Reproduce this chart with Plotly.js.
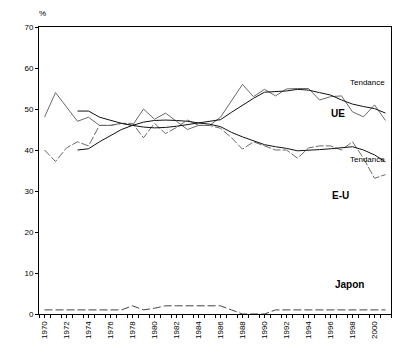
<!DOCTYPE html>
<html>
<head>
<meta charset="utf-8">
<script src="https://cdn.plot.ly/plotly-3.0.1.min.js"></script>
<style>html,body{margin:0;padding:0;background:#fff;}#chart{width:420px;height:359px;}</style>
</head>
<body>
<div id="chart"></div>
<script>
var years = [1970,1971,1972,1973,1974,1975,1976,1977,1978,1979,1980,1981,1982,1983,1984,1985,
             1986,1987,1988,1989,1990,1991,1992,1993,1994,1995,1996,1997,1998,1999,2000,2001];
var ueActual = [48,54,50.5,47,48,46,46,46.5,46,50,47.5,49,47,45,46,46,
                48,52,56,53,54.8,53.2,54.9,55,55,52.2,53,53.2,49.3,48.1,51,47.2];
var euActual = [40,37.2,40.5,42,41,46,46,46.5,46.5,43,46.5,44,45.5,47.3,46,46,
                45.3,43,40.2,42,41,40,40,38,40.5,41,41,40,42,38,33.1,34];
var ueTrend = [null,null,null,49.5,49.5,48,47.3,46.5,46,45.6,45.4,45.5,45.8,46.2,46.5,46.9,
               47.4,49.2,51,52.6,54.1,54.3,54.4,54.8,54.6,54,53.4,52.2,51.2,50.6,50.1,49];
var euTrend = [null,null,null,40,40.3,42,43.5,45,46,46.8,47.2,47.3,47.2,47,46.6,46.3,
               45.7,44.3,43.2,42.2,41.3,40.8,40.4,39.8,39.9,40.1,40.3,40.6,40.8,40,38.8,37.1];
var japon = [1,1,1,1,1,1,1,1,2,1,1.4,2,2,2,2,2,
             2,1,0,0,0,1,1,1,1,1,1,1,1,1,1,1];
var tickYears = [1970,1972,1974,1976,1978,1980,1982,1984,1986,1988,1990,1992,1994,1996,1998,2000];

var fam = 'Liberation Sans, Arial, sans-serif';
var font = {family: fam, size: 8, color: '#000'};
var bold = {family: fam, size: 10, color: '#000'};
var traces = [
  {x: years, y: ueActual, mode: 'lines', line: {color: '#6a6a6a', width: 1}, hoverinfo: 'skip'},
  {x: years, y: euActual, mode: 'lines', line: {color: '#6a6a6a', width: 1, dash: '8px,2px'}, hoverinfo: 'skip'},
  {x: years, y: ueTrend, mode: 'lines', line: {color: '#111', width: 1}, hoverinfo: 'skip'},
  {x: years, y: euTrend, mode: 'lines', line: {color: '#111', width: 1}, hoverinfo: 'skip'},
  {x: years, y: japon, mode: 'lines', line: {color: '#444', width: 1, dash: '8px,3px'}, hoverinfo: 'skip'}
];
var layout = {
  width: 420, height: 359,
  margin: {l: 39, r: 29, t: 27, b: 45},
  paper_bgcolor: '#fff', plot_bgcolor: '#fff',
  showlegend: false,
  font: font,
  xaxis: {
    range: [1969.5, 2001.5], tickmode: 'array', tickvals: tickYears,
    ticktext: tickYears.map(String), tickangle: -90,
    ticks: 'outside', ticklen: 3, tickcolor: '#000',
    minor: {tick0: 1969.5, dtick: 1, ticks: 'outside', ticklen: 3, tickcolor: '#000'},
    showgrid: false, zeroline: false, showline: true, linecolor: '#000', linewidth: 1, mirror: true,
    tickfont: font, fixedrange: true
  },
  yaxis: {
    range: [0, 70], dtick: 10, ticks: 'outside', ticklen: 3, tickcolor: '#000',
    showgrid: false, zeroline: false, showline: true, linecolor: '#000', linewidth: 1, mirror: true,
    tickfont: font, fixedrange: true
  },
  annotations: [
    {xref: 'paper', yref: 'paper', x: -0.005, y: 1.025, xanchor: 'left', yanchor: 'bottom', text: '%', showarrow: false, font: font},
    {xref: 'paper', yref: 'y', x: 0.99, y: 56.5, xanchor: 'right', yanchor: 'middle', text: 'Tendance', showarrow: false, font: font},
    {xref: 'paper', yref: 'y', x: 0.875, y: 49, xanchor: 'right', yanchor: 'middle', text: '<b>UE</b>', showarrow: false, font: bold},
    {xref: 'paper', yref: 'y', x: 0.99, y: 37.6, xanchor: 'right', yanchor: 'middle', text: 'Tendance', showarrow: false, font: font},
    {xref: 'paper', yref: 'y', x: 0.885, y: 28.8, xanchor: 'right', yanchor: 'middle', text: '<b>E-U</b>', showarrow: false, font: bold},
    {xref: 'paper', yref: 'y', x: 0.93, y: 7.3, xanchor: 'right', yanchor: 'middle', text: '<b>Japon</b>', showarrow: false, font: bold}
  ]
};
Plotly.newPlot('chart', traces, layout, {staticPlot: true, displayModeBar: false});
</script>
</body>
</html>
